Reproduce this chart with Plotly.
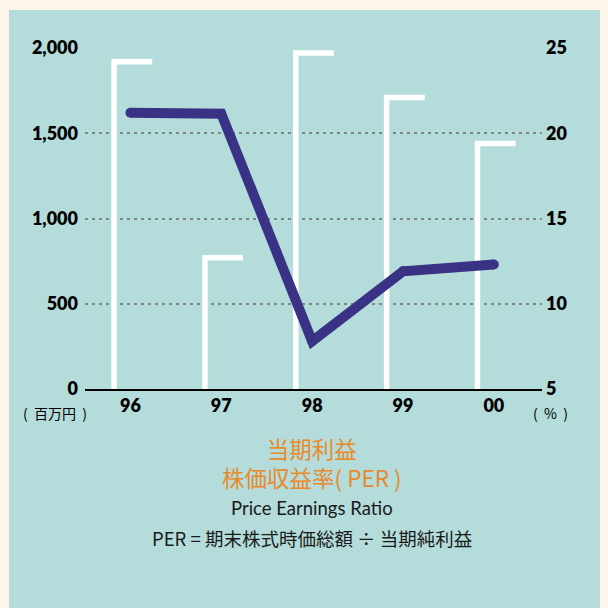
import plotly.graph_objects as go

# ---- data ----
years = ["96", "97", "98", "99", "00"]
net_income = [1920, 770, 1970, 1710, 1440]      # 当期利益 (百万円), left axis
per = [21.2, 21.15, 7.8, 11.9, 12.3]             # 株価収益率 PER (%), right axis
left_ticks = [0, 500, 1000, 1500, 2000]
left_ticktext = ["0", "500", "1,000", "1,500", "2,000"]
right_ticks = [5, 10, 15, 20, 25]

# ---- styles ----
CREAM = "#fdf5e9"
PANEL = "#b4dcdb"
LINE = "#3a3385"
ORANGE = "#e98a2a"
BAR_L, BAR_R = -0.18, 0.24

OFF = 8                      # page body margin
W, H = 600, 600
ML, MR, MT, MB = 77, 66, 40, 219
pw, ph = W - ML - MR, H - MT - MB

def px2x(px):                # page pixel -> paper coordinate
    return (px - OFF - ML) / pw

def px2y(py):
    return (H - MB - (py - OFF)) / ph

xi = list(range(len(years)))

# white "Γ" bar outlines built from data
bx, by = [], []
for i, v in zip(xi, net_income):
    bx += [i + BAR_L, i + BAR_L, i + BAR_R, None]
    by += [0, v, v, None]

fig = go.Figure()
fig.add_trace(go.Scatter(x=bx, y=by, mode="lines",
                         line=dict(color="white", width=5.5),
                         hoverinfo="skip", showlegend=False))
fig.add_trace(go.Scatter(x=xi, y=per, mode="lines+markers", yaxis="y2",
                         line=dict(color=LINE, width=10),
                         marker=dict(color=LINE, size=10, line=dict(width=0)),
                         showlegend=False))

TICKFONT = dict(family="Lato", size=18, color="black", weight=800)
fig.update_layout(
    width=W, height=H,
    margin=dict(l=ML, r=MR, t=MT, b=MB),
    paper_bgcolor=CREAM,
    plot_bgcolor="rgba(0,0,0,0)",
    xaxis=dict(range=[-0.5, 4.53], tickvals=xi, ticktext=years,
               showgrid=False, zeroline=False, showline=True,
               linecolor="black", linewidth=1.5, ticks="",
               tickfont=TICKFONT, ticklabelstandoff=0),
    yaxis=dict(range=[0, 2000], tickvals=left_ticks, ticktext=left_ticktext,
               showgrid=True, gridcolor="#808585", gridwidth=1.5,
               griddash="3px,4px", zeroline=False, showline=False, ticks="",
               tickfont=TICKFONT, ticklabelstandoff=6),
    yaxis2=dict(range=[5, 25], tickvals=right_ticks, overlaying="y",
                side="right", showgrid=False, zeroline=False, showline=False,
                ticks="", tickfont=TICKFONT, ticklabelstandoff=3),
    shapes=[dict(type="rect", xref="paper", yref="paper", layer="below",
                 x0=px2x(9), x1=px2x(OFF + W + 5), y0=px2y(OFF + H + 5),
                 y1=px2y(10), fillcolor=PANEL, line=dict(width=0))],
)

CJK = "Noto Sans CJK JP"
annots = [
    ("(  百万円  )", 55, 413, 14, "black", CJK),
    ("(  %  )", 550, 413, 14, "black", CJK),
    ("当期利益<br>株価収益率( PER )", 312, 462, 22.5, ORANGE, CJK),
    ("Price Earnings Ratio", 312, 508, 18.5, "#1a1a1a", "Lato"),
    ("PER = 期末株式時価総額 ÷ 当期純利益", 312, 538, 18.5, "#1a1a1a", CJK),
]
for text, x, y, size, color, fam in annots:
    fig.add_annotation(text=text, x=px2x(x), y=px2y(y), xref="paper",
                       yref="paper", showarrow=False, xanchor="center",
                       yanchor="middle",
                       font=dict(family=fam, size=size, color=color))

fig.write_html("out.html",
               post_script="document.body.style.background='%s';" % CREAM)
